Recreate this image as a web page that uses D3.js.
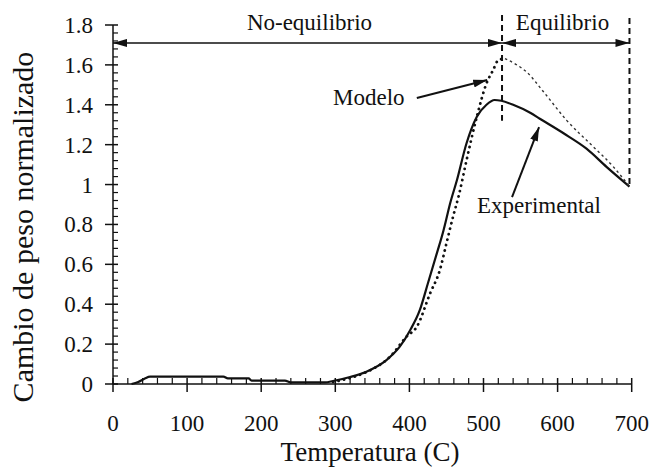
<!DOCTYPE html>
<html>
<head>
<meta charset="utf-8">
<script src="https://cdn.jsdelivr.net/npm/d3@7"></script>
<style>
  html, body { margin: 0; padding: 0; background: #fff; }
</style>
</head>
<body>
<script>
// ---- data ----
const expTemp = [25, 34, 43, 50, 100, 149, 155, 183, 187, 232, 240, 286, 297, 320, 342, 369, 387, 401, 414, 425, 437, 446, 450, 455, 464, 477, 491, 504, 515, 524, 540, 563, 576, 608, 639, 666, 697];
const expVal  = [0, 0.01, 0.028, 0.037, 0.037, 0.037, 0.028, 0.028, 0.017, 0.017, 0.008, 0.008, 0.015, 0.035, 0.062, 0.12, 0.187, 0.27, 0.37, 0.505, 0.655, 0.77, 0.83, 0.906, 1.02, 1.206, 1.34, 1.40, 1.424, 1.42, 1.40, 1.36, 1.33, 1.257, 1.18, 1.089, 0.99];

const modTemp = [297, 320, 342, 374, 396, 410, 428, 441, 450, 459, 467, 477, 491, 504, 513, 520, 529, 545, 558, 581, 612, 648, 675, 697];
const modVal  = [0.01, 0.03, 0.06, 0.137, 0.237, 0.287, 0.455, 0.57, 0.705, 0.84, 0.95, 1.12, 1.34, 1.507, 1.574, 1.624, 1.632, 1.60, 1.565, 1.465, 1.323, 1.19, 1.09, 0.99];
const modPeakTemp = 529;

const xTicks = [0, 100, 200, 300, 400, 500, 600, 700];
const yTicks = [0, 0.2, 0.4, 0.6, 0.8, 1, 1.2, 1.4, 1.6, 1.8];
const yTickLabels = ["0", "0.2", "0.4", "0.6", "0.8", "1", "1.2", "1.4", "1.6", "1.8"];

const phaseBounds = [0, 525, 697];
const phaseLabels = ["No-equilibrio", "Equilibrio"];
const phaseArrowY = 1.71;

const xTitle = "Temperatura (C)";
const yTitle = "Cambio de peso normalizado";

// ---- layout ----
const W = 651, H = 468;
const FONT = "'Liberation Serif', 'Times New Roman', Tinos, serif";
const x = d3.scaleLinear().domain([0, 700]).range([113, 631.7]);
const y = d3.scaleLinear().domain([0, 1.8]).range([384, 25]);

const svg = d3.select("body").append("svg")
  .attr("width", W).attr("height", H)
  .attr("viewBox", `0 0 ${W} ${H}`);
svg.append("rect").attr("width", W).attr("height", H).attr("fill", "#fff");

const defs = svg.append("defs");
defs.append("marker")
  .attr("id", "arr")
  .attr("markerUnits", "userSpaceOnUse")
  .attr("viewBox", "0 0 14 8")
  .attr("refX", 14).attr("refY", 4)
  .attr("markerWidth", 14).attr("markerHeight", 8)
  .attr("orient", "auto-start-reverse")
  .append("path").attr("d", "M0,0 L14,4 L0,8 Z").attr("fill", "#111");

const ink = "#111";
function txt(sel) { return sel.style("font-family", FONT).attr("fill", ink); }

// ---- axes ----
svg.append("line")
  .attr("x1", x(0)).attr("x2", x(700))
  .attr("y1", y(0)).attr("y2", y(0))
  .attr("stroke", ink).attr("stroke-width", 1.5);
const xMinor = d3.range(0, 701, 20).filter(v => v % 100 !== 0);
svg.append("g").selectAll("line").data(xMinor).join("line")
  .attr("x1", d => x(d)).attr("x2", d => x(d))
  .attr("y1", y(0)).attr("y2", y(0) - 6)
  .attr("stroke", ink).attr("stroke-width", 1.2);
svg.append("g").selectAll("line").data(xTicks).join("line")
  .attr("x1", d => x(d)).attr("x2", d => x(d))
  .attr("y1", y(0) - 6).attr("y2", y(0) + 8)
  .attr("stroke", ink).attr("stroke-width", 1.5);
txt(svg.append("g").selectAll("text").data(xTicks).join("text"))
  .attr("x", d => x(d)).attr("y", 431)
  .attr("text-anchor", "middle")
  .attr("font-size", 23)
  .text(d => d);

svg.append("line")
  .attr("x1", x(0)).attr("x2", x(0))
  .attr("y1", y(0)).attr("y2", y(1.8))
  .attr("stroke", ink).attr("stroke-width", 1.5);
const yMinor = d3.range(0, 46).map(i => i * 0.04).filter(v => Math.abs(v / 0.2 - Math.round(v / 0.2)) > 1e-6 && v < 1.8);
svg.append("g").selectAll("line").data(yMinor).join("line")
  .attr("x1", x(0)).attr("x2", x(0) + 5)
  .attr("y1", d => y(d)).attr("y2", d => y(d))
  .attr("stroke", ink).attr("stroke-width", 1.2);
svg.append("g").selectAll("line").data(yTicks).join("line")
  .attr("x1", x(0) - 8).attr("x2", x(0) + 5)
  .attr("y1", d => y(d)).attr("y2", d => y(d))
  .attr("stroke", ink).attr("stroke-width", 1.5);
txt(svg.append("g").selectAll("text").data(yTicks).join("text"))
  .attr("x", 93).attr("y", d => y(d) + 8)
  .attr("text-anchor", "end")
  .attr("font-size", 23)
  .text((d, i) => yTickLabels[i]);

// titles
txt(svg.append("text"))
  .attr("x", 370).attr("y", 461)
  .attr("text-anchor", "middle")
  .attr("font-size", 27)
  .text(xTitle);
txt(svg.append("text"))
  .attr("transform", "translate(33,227) rotate(-90)")
  .attr("text-anchor", "middle")
  .attr("font-size", 30)
  .text(yTitle);

// ---- phase boundaries ----
svg.append("line")
  .attr("x1", x(phaseBounds[1])).attr("x2", x(phaseBounds[1]))
  .attr("y1", y(1.85)).attr("y2", y(1.32))
  .attr("stroke", ink).attr("stroke-width", 2)
  .attr("stroke-dasharray", "6,4");
svg.append("line")
  .attr("x1", x(phaseBounds[2])).attr("x2", x(phaseBounds[2]))
  .attr("y1", y(1.835)).attr("y2", y(0.99))
  .attr("stroke", ink).attr("stroke-width", 2)
  .attr("stroke-dasharray", "6,4");

for (let i = 0; i < phaseLabels.length; i++) {
  svg.append("line")
    .attr("x1", x(phaseBounds[i])).attr("x2", x(phaseBounds[i + 1]))
    .attr("y1", y(phaseArrowY)).attr("y2", y(phaseArrowY))
    .attr("stroke", ink).attr("stroke-width", 1.5)
    .attr("marker-start", "url(#arr)")
    .attr("marker-end", "url(#arr)");
}
const labelCenters = [309.5, 562.5];
txt(svg.append("g").selectAll("text").data(phaseLabels).join("text"))
  .attr("x", (d, i) => labelCenters[i]).attr("y", 30)
  .attr("text-anchor", "middle")
  .attr("font-size", 23)
  .text(d => d);

// ---- series ----
const line = d3.line().x(d => x(d[0])).y(d => y(d[1])).curve(d3.curveMonotoneX);
const expData = expTemp.map((t, i) => [t, expVal[i]]);
const modData = modTemp.map((t, i) => [t, modVal[i]]);
const modRise = modData.filter(d => d[0] <= modPeakTemp);
const modFall = modData.filter(d => d[0] >= modPeakTemp);

svg.append("path").datum(expData)
  .attr("d", line)
  .attr("fill", "none").attr("stroke", ink)
  .attr("stroke-width", 2.2).attr("stroke-linejoin", "round");

svg.append("path").datum(modRise)
  .attr("d", line)
  .attr("fill", "none").attr("stroke", ink)
  .attr("stroke-width", 2.8).attr("stroke-linecap", "round")
  .attr("stroke-dasharray", "0.1,5.5");
svg.append("path").datum(modFall)
  .attr("d", line)
  .attr("fill", "none").attr("stroke", "#333")
  .attr("stroke-width", 1.4)
  .attr("stroke-dasharray", "2.5,3");

// ---- annotations ----
txt(svg.append("text"))
  .attr("x", 333).attr("y", 105)
  .attr("font-size", 23)
  .text("Modelo");
svg.append("line")
  .attr("x1", x(410)).attr("y1", y(1.434))
  .attr("x2", x(505)).attr("y2", y(1.524))
  .attr("stroke", ink).attr("stroke-width", 2)
  .attr("marker-end", "url(#arr)");

txt(svg.append("text"))
  .attr("x", 477).attr("y", 213)
  .attr("font-size", 23)
  .text("Experimental");
svg.append("line")
  .attr("x1", x(538.5)).attr("y1", y(0.937))
  .attr("x2", x(575)).attr("y2", y(1.288))
  .attr("stroke", ink).attr("stroke-width", 2)
  .attr("marker-end", "url(#arr)");
</script>
</body>
</html>
